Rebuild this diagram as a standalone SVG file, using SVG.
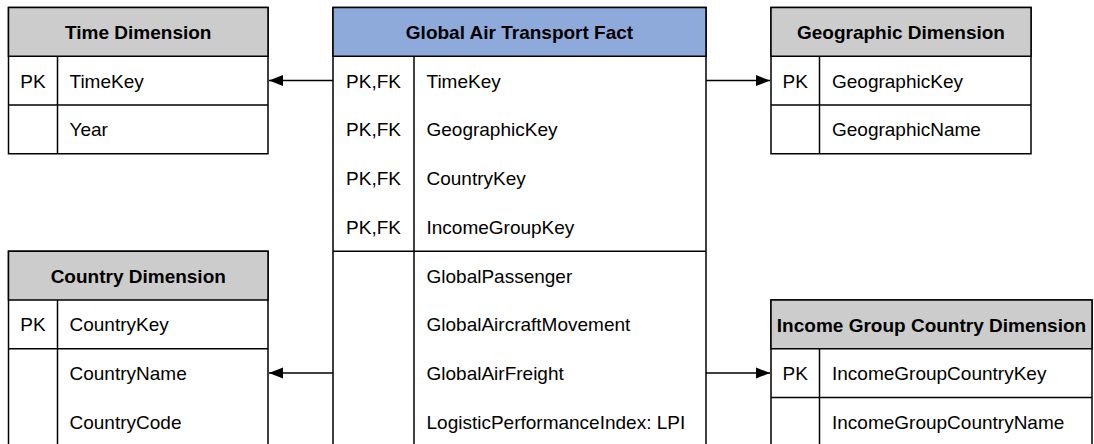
<svg xmlns="http://www.w3.org/2000/svg" width="1094" height="444" viewBox="0 0 1094 444">
<style>
.box{fill:#ffffff;stroke:#000;stroke-width:1.5}
.hd{fill:#cccccc;stroke:#000;stroke-width:1.5}
.hdf{fill:#8eaadb;stroke:#000;stroke-width:1.5}
.ln{stroke:#000;stroke-width:1.5;fill:none}
.t{font-family:"Liberation Sans",Arial,sans-serif;font-size:19px;fill:#000}
.b{font-family:"Liberation Sans",Arial,sans-serif;font-size:19px;font-weight:bold;fill:#000;text-anchor:middle}
.c{text-anchor:middle}
</style>
<defs>
<marker id="arr" markerUnits="userSpaceOnUse" markerWidth="16" markerHeight="12" refX="14" refY="6" orient="auto">
<path d="M0,0.5 L14,6 L0,11.5 Z" fill="#000"/>
</marker>
</defs>
<rect width="1094" height="444" fill="#fff"/>

<g id="connectors">
<line class="ln" x1="333" y1="80.6" x2="269" y2="80.6" marker-end="url(#arr)"/>
<line class="ln" x1="706" y1="80.6" x2="770" y2="80.6" marker-end="url(#arr)"/>
<line class="ln" x1="333" y1="373" x2="269" y2="373" marker-end="url(#arr)"/>
<line class="ln" x1="706" y1="373" x2="770" y2="373" marker-end="url(#arr)"/>
</g>

<g id="time-dimension">
<rect class="box" x="8.5" y="7.5" width="259.5" height="146.25"/>
<rect class="hd" x="8.5" y="7.5" width="259.5" height="48.75"/>
<line class="ln" x1="57.5" y1="56.25" x2="57.5" y2="153.75"/>
<line class="ln" x1="8.5" y1="105" x2="268" y2="105"/>
<text class="b" x="138.25" y="39">Time Dimension</text>
<text class="t c" x="33" y="87.6">PK</text>
<text class="t" x="69.5" y="87.6">TimeKey</text>
<text class="t" x="69.5" y="136.4">Year</text>
</g>

<g id="fact">
<rect class="box" x="333" y="7.5" width="373" height="460"/>
<rect class="hdf" x="333" y="7.5" width="373" height="48.75"/>
<line class="ln" x1="414" y1="56.25" x2="414" y2="467.5"/>
<line class="ln" x1="333" y1="251.25" x2="706" y2="251.25"/>
<text class="b" x="519.5" y="39">Global Air Transport Fact</text>
<text class="t c" x="373.5" y="87.6">PK,FK</text>
<text class="t c" x="373.5" y="136.4">PK,FK</text>
<text class="t c" x="373.5" y="185.1">PK,FK</text>
<text class="t c" x="373.5" y="233.9">PK,FK</text>
<text class="t" x="426.5" y="87.6">TimeKey</text>
<text class="t" x="426.5" y="136.4">GeographicKey</text>
<text class="t" x="426.5" y="185.1">CountryKey</text>
<text class="t" x="426.5" y="233.9">IncomeGroupKey</text>
<text class="t" x="426.5" y="282.6">GlobalPassenger</text>
<text class="t" x="426.5" y="331.4">GlobalAircraftMovement</text>
<text class="t" x="426.5" y="380.1">GlobalAirFreight</text>
<text class="t" x="426.5" y="428.9">LogisticPerformanceIndex: LPI</text>
</g>

<g id="geographic-dimension">
<rect class="box" x="771" y="7.5" width="260" height="146.25"/>
<rect class="hd" x="771" y="7.5" width="260" height="48.75"/>
<line class="ln" x1="819.5" y1="56.25" x2="819.5" y2="153.75"/>
<line class="ln" x1="771" y1="105" x2="1031" y2="105"/>
<text class="b" x="901" y="39">Geographic Dimension</text>
<text class="t c" x="795.25" y="87.6">PK</text>
<text class="t" x="832" y="87.6">GeographicKey</text>
<text class="t" x="832" y="136.4">GeographicName</text>
</g>

<g id="country-dimension">
<rect class="box" x="8.5" y="251.25" width="259.5" height="220"/>
<rect class="hd" x="8.5" y="251.25" width="259.5" height="48.75"/>
<line class="ln" x1="57.5" y1="300" x2="57.5" y2="471.25"/>
<line class="ln" x1="8.5" y1="348.75" x2="268" y2="348.75"/>
<text class="b" x="138.25" y="282.8">Country Dimension</text>
<text class="t c" x="33" y="331.4">PK</text>
<text class="t" x="69.5" y="331.4">CountryKey</text>
<text class="t" x="69.5" y="380.1">CountryName</text>
<text class="t" x="69.5" y="428.9">CountryCode</text>
</g>

<g id="income-group-country-dimension">
<rect class="box" x="771" y="300" width="321" height="180"/>
<rect class="hd" x="771" y="300" width="321" height="48.75"/>
<line class="ln" x1="819.5" y1="348.75" x2="819.5" y2="480"/>
<line class="ln" x1="771" y1="397.5" x2="1092" y2="397.5"/>
<text class="b" x="931.5" y="331.5">Income Group Country Dimension</text>
<text class="t c" x="795.25" y="380.1">PK</text>
<text class="t" x="832" y="380.1">IncomeGroupCountryKey</text>
<text class="t" x="832" y="428.9">IncomeGroupCountryName</text>
</g>
</svg>
